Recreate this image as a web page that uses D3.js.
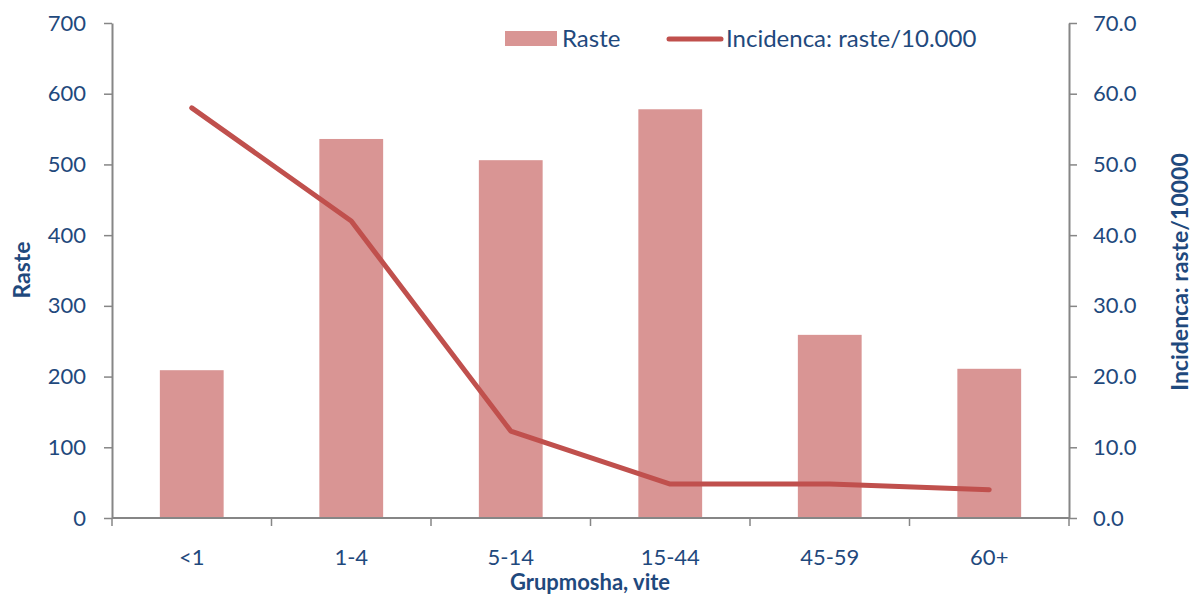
<!DOCTYPE html>
<html>
<head>
<meta charset="utf-8">
<script src="https://cdn.jsdelivr.net/npm/d3@7"></script>
<style>
  body { margin: 0; background: #fff; }
  text { font-family: Lato, "Open Sans", sans-serif; fill: #1F497D; }
</style>
</head>
<body>
<div id="viz"></div>
<script>
// ========================================
// Data
// ========================================
var categories = ['<1', '1-4', '5-14', '15-44', '45-59', '60+'];
var cases = [209, 536, 506, 578, 259, 211];
var incidence = [58.0, 42.0, 12.3, 4.8, 4.8, 4.0];
var left_ticks = [0, 100, 200, 300, 400, 500, 600, 700];
var right_ticks = [0, 10, 20, 30, 40, 50, 60, 70];

// ========================================
// Setup
// ========================================
var width = 1194, height = 598;
var bar_color = '#D99594',
    line_color = '#C0504D',
    axis_color = '#868686',
    text_color = '#1F497D';

var margin = {left: 112, right: 1069, top: 23, bottom: 518};

var svg = d3.select('#viz').append('svg')
   .attr('width', width)
   .attr('height', height);

var x = d3.scaleBand().domain(categories).range([margin.left, margin.right]).paddingInner(0).paddingOuter(0);
var y_left = d3.scaleLinear().domain([0, 700]).range([margin.bottom, margin.top]);
var y_right = d3.scaleLinear().domain([0, 70]).range([margin.bottom, margin.top]);

// Bars
var bar_w = x.bandwidth() * 0.4;
svg.selectAll('.bar')
   .data(categories)
   .enter()
   .append('rect')
   .attr('class', 'bar')
   .attr('x', (d, i) => x(d) + (x.bandwidth() - bar_w) / 2)
   .attr('y', (d, i) => y_left(cases[i]))
   .attr('width', bar_w)
   .attr('height', (d, i) => y_left(0) - y_left(cases[i]))
   .style('fill', bar_color);

// Axes
function style_axis(g) {
   g.select('.domain').style('stroke', axis_color).style('stroke-width', 2);
   g.selectAll('.tick line').style('stroke', axis_color).style('stroke-width', 1.5);
   g.selectAll('.tick text').style('fill', text_color).style('font-size', '22px');
}

svg.append('g')
   .attr('transform', `translate(${margin.left},0)`)
   .call(d3.axisLeft(y_left).tickValues(left_ticks).tickSize(8).tickSizeOuter(0).tickPadding(18).tickFormat(d3.format('d')))
   .call(style_axis);

svg.append('g')
   .attr('transform', `translate(${margin.right},0)`)
   .call(d3.axisRight(y_right).tickValues(right_ticks).tickSize(8).tickSizeOuter(0).tickPadding(16).tickFormat(d3.format('.1f')))
   .call(style_axis);

// x axis: ticks at category boundaries
var x_axis = svg.append('g').attr('transform', `translate(0,${margin.bottom})`);
x_axis.append('line')
   .attr('x1', margin.left).attr('x2', margin.right)
   .style('stroke', axis_color).style('stroke-width', 2);
x_axis.selectAll('.xtick')
   .data(categories.concat(['end']))
   .enter()
   .append('line')
   .attr('x1', (d, i) => i < categories.length ? x(d) : margin.right)
   .attr('x2', (d, i) => i < categories.length ? x(d) : margin.right)
   .attr('y1', 0).attr('y2', 8)
   .style('stroke', axis_color).style('stroke-width', 1.5);
x_axis.selectAll('.xlabel')
   .data(categories)
   .enter()
   .append('text')
   .attr('x', d => x(d) + x.bandwidth() / 2)
   .attr('y', 47)
   .attr('text-anchor', 'middle')
   .style('font-size', '22px')
   .text(d => d);

// Line
var line = d3.line()
   .x((d, i) => x(categories[i]) + x.bandwidth() / 2)
   .y(d => y_right(d));
svg.append('path')
   .datum(incidence)
   .attr('d', line)
   .style('fill', 'none')
   .style('stroke', line_color)
   .style('stroke-width', 5)
   .style('stroke-linecap', 'round')
   .style('stroke-linejoin', 'round');

// Axis titles
svg.append('text')
   .attr('transform', 'translate(30,270)rotate(-90)')
   .attr('text-anchor', 'middle')
   .style('font-size', '23px').style('font-weight', 'bold')
   .text('Raste');
svg.append('text')
   .attr('transform', 'translate(1188,272)rotate(-90)')
   .attr('text-anchor', 'middle')
   .style('font-size', '23px').style('font-weight', 'bold')
   .text('Incidenca: raste/10000');
svg.append('text')
   .attr('x', 590).attr('y', 590)
   .attr('text-anchor', 'middle')
   .style('font-size', '22px').style('font-weight', 'bold')
   .text('Grupmosha, vite');

// Legend
var legend = svg.append('g');
legend.append('rect')
   .attr('x', 505).attr('y', 31).attr('width', 52).attr('height', 15)
   .style('fill', bar_color);
legend.append('text')
   .attr('x', 562).attr('y', 47)
   .style('font-size', '24px')
   .text('Raste');
legend.append('line')
   .attr('x1', 669).attr('x2', 721).attr('y1', 39).attr('y2', 39)
   .style('stroke', line_color).style('stroke-width', 5).style('stroke-linecap', 'round');
legend.append('text')
   .attr('x', 726).attr('y', 47)
   .style('font-size', '24px')
   .text('Incidenca: raste/10.000');
</script>
</body>
</html>
